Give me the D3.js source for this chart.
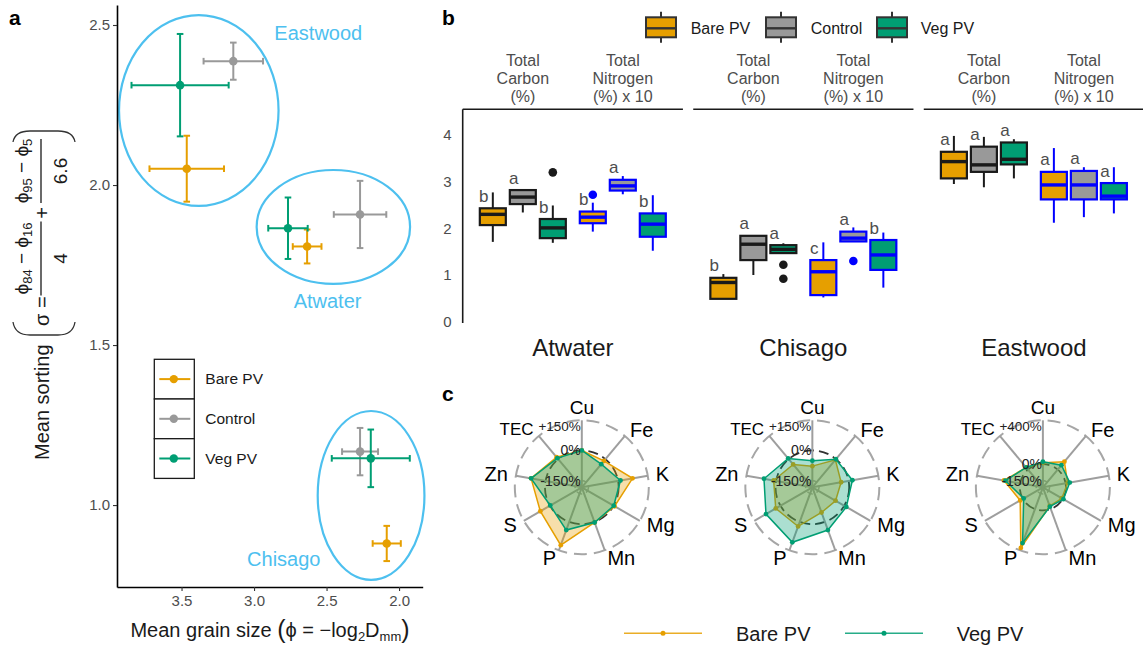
<!DOCTYPE html>
<html><head><meta charset="utf-8">
<script src="https://cdn.jsdelivr.net/npm/d3@7"></script>
<style>body{margin:0;background:#fff}svg{display:block;font-family:"Liberation Sans",Arial,sans-serif}</style>
</head><body><svg id="chart" width="1143" height="647"></svg>
<script>
// ================= DATA =================
const treatments = ["Bare PV", "Control", "Veg PV"];
const treatColors = ["#E69F00", "#999999", "#009E73"];

// ---- panel a: grain size vs sorting (mean ± error) ----
const sitesA = ["Eastwood", "Atwater", "Chisago"];
const grainMean = [[3.464, 3.143, 3.510], [2.634, 2.269, 2.766], [2.085, 2.269, 2.195]];
const grainErr  = [[0.257, 0.205, 0.335], [0.099, 0.181, 0.136], [0.097, 0.124, 0.269]];
const sortMean  = [[2.051, 2.387, 2.312], [1.808, 1.908, 1.865], [0.880, 1.167, 1.146]];
const sortErr   = [[0.103, 0.058, 0.160], [0.053, 0.105, 0.096], [0.055, 0.074, 0.090]];
const ellipseCX = [3.381, 2.453, 2.193];
const ellipseCY = [2.233, 1.869, 1.030];
const ellipseRX = [0.55, 0.529, 0.368];
const ellipseRY = [0.298, 0.178, 0.264];
const siteLabelX = [2.557, 2.493, 2.795];
const siteLabelY = [2.453, 1.616, 0.809];
const xTicksA = [3.5, 3.0, 2.5, 2.0];
const yTicksA = [1.0, 1.5, 2.0, 2.5];

// ---- panel b: boxplots [lower whisker, q1, median, q3, upper whisker] ----
const sitesB = ["Atwater", "Chisago", "Eastwood"];
const measures = ["Carbon", "Nitrogen"];
const measureHeader = [["Total", "Carbon", "(%)"], ["Total", "Nitrogen", "(%) x 10"]];
const carbonStats = [
  [[1.71, 2.07, 2.30, 2.43, 2.77], [2.34, 2.52, 2.67, 2.82, 2.82], [1.69, 1.79, 2.01, 2.20, 2.49]],
  [[0.49, 0.49, 0.84, 0.94, 1.02], [1.00, 1.32, 1.66, 1.84, 1.84], [1.47, 1.47, 1.55, 1.64, 1.68]],
  [[2.95, 3.07, 3.43, 3.64, 3.98], [2.88, 3.21, 3.36, 3.75, 3.96], [3.07, 3.37, 3.48, 3.84, 3.91]]
];
const nitrogenStats = [
  [[1.93, 2.11, 2.24, 2.36, 2.55], [2.73, 2.81, 2.91, 3.04, 3.12], [1.52, 1.82, 2.09, 2.32, 2.71]],
  [[0.52, 0.57, 1.07, 1.32, 1.70], [1.72, 1.72, 1.79, 1.93, 2.02], [0.73, 1.11, 1.43, 1.75, 1.91]],
  [[2.12, 2.62, 2.93, 3.21, 3.72], [2.24, 2.62, 2.93, 3.23, 3.31], [2.32, 2.62, 2.69, 2.97, 3.31]]
];
const carbonOutliers   = [[[], [], [3.20]], [[], [], [1.22, 0.92]], [[], [], []]];
const nitrogenOutliers = [[[2.72], [], []], [[], [1.30], []], [[], [], []]];
const carbonLetters   = [["b", "a", "b"], ["b", "a", "a"], ["a", "a", "a"]];
const nitrogenLetters = [["b", "a", "b"], ["c", "a", "b"], ["a", "a", "a"]];
const yTicksB = [0, 1, 2, 3, 4];

// ---- panel c: radar, % change vs control ----
const nutrients = ["Cu", "Fe", "K", "Mg", "Mn", "P", "S", "Zn", "TEC"];
const radarMin = [-150, -150, -150];
const radarMax = [150, 150, 400];
const radarMaxLabel = ["+150%", "+150%", "+400%"];
const bareChange = [
  [0, -12, 73, 5, 3, 123, 55, 73, 12],
  [-78, -5, -38, -50, -50, 24, 27, 12, -35],
  [13, 94, 18, -11, -30, 377, 28, 149, 25]
];
const vegChange = [
  [0, -33, 12, 0, 3, 43, -2, 73, 6],
  [-51, -1, 19, 12, 43, 108, 83, 61, 4],
  [22, 52, 38, 5, -23, 330, -9, 136, 25]
];
const radarSeries = ["Bare PV", "Veg PV"];
const radarColors = ["#E69F00", "#009E73"];

// ================= DRAWING =================
const FONT = "Liberation Sans, Arial, sans-serif";
const svg = d3.select("#chart");
svg.append("rect").attr("width", 1143).attr("height", 647).attr("fill", "#fff");

function panelLetter(t, x, y) {
  svg.append("text").attr("x", x).attr("y", y).attr("font-size", 21).attr("font-weight", "bold")
    .attr("fill", "#000").text(t);
}
panelLetter("a", 9, 25);
panelLetter("b", 442, 25);
panelLetter("c", 442, 401);

// ---------- Panel a ----------
const xA = d3.scaleLinear().domain([3.945, 1.837]).range([117, 422.7]);
const yA = d3.scaleLinear().domain([0.744, 2.5625]).range([587, 5]);
const gA = svg.append("g");
const ellipseColor = "#4DC0EF";

gA.selectAll("ellipse.site").data(sitesA).join("ellipse").attr("class", "site")
  .attr("cx", (d, i) => xA(ellipseCX[i])).attr("cy", (d, i) => yA(ellipseCY[i]))
  .attr("rx", (d, i) => Math.abs(xA(ellipseCX[i] + ellipseRX[i]) - xA(ellipseCX[i])))
  .attr("ry", (d, i) => Math.abs(yA(ellipseCY[i] + ellipseRY[i]) - yA(ellipseCY[i])))
  .attr("fill", "none").attr("stroke", ellipseColor).attr("stroke-width", 2.2);

gA.selectAll("text.site").data(sitesA).join("text").attr("class", "site")
  .attr("x", (d, i) => xA(siteLabelX[i])).attr("y", (d, i) => yA(siteLabelY[i]))
  .attr("text-anchor", "middle").attr("font-size", 20).attr("fill", ellipseColor).text(d => d);

const axL = gA.append("g").attr("transform", "translate(117,0)")
  .call(d3.axisLeft(yA).tickValues(yTicksA).tickFormat(d3.format(".1f")).tickSize(4).tickSizeOuter(0).tickPadding(3));
const axB = gA.append("g").attr("transform", "translate(0,587)")
  .call(d3.axisBottom(xA).tickValues(xTicksA).tickFormat(d3.format(".1f")).tickSize(4).tickSizeOuter(0).tickPadding(4));
[axL, axB].forEach(ax => {
  ax.attr("font-family", FONT).attr("font-size", 15);
  ax.select(".domain").attr("stroke", "#000").attr("stroke-width", 1.6);
  ax.selectAll(".tick line").attr("stroke", "#333").attr("stroke-width", 1.1);
  ax.selectAll(".tick text").attr("fill", "#4d4d4d");
});

sitesA.forEach((s, i) => {
  treatments.forEach((t, j) => {
    const g = gA.append("g").attr("stroke", treatColors[j]).attr("stroke-width", 2);
    const mx = grainMean[i][j], my = sortMean[i][j];
    const x0 = xA(mx - grainErr[i][j]), x1 = xA(mx + grainErr[i][j]);
    const y0 = yA(my - sortErr[i][j]), y1 = yA(my + sortErr[i][j]);
    const px = xA(mx), py = yA(my), c = 3.3;
    g.append("line").attr("x1", x0).attr("x2", x1).attr("y1", py).attr("y2", py);
    g.append("line").attr("x1", x0).attr("x2", x0).attr("y1", py - c).attr("y2", py + c);
    g.append("line").attr("x1", x1).attr("x2", x1).attr("y1", py - c).attr("y2", py + c);
    g.append("line").attr("x1", px).attr("x2", px).attr("y1", y0).attr("y2", y1);
    g.append("line").attr("x1", px - c).attr("x2", px + c).attr("y1", y0).attr("y2", y0);
    g.append("line").attr("x1", px - c).attr("x2", px + c).attr("y1", y1).attr("y2", y1);
    g.append("circle").attr("cx", px).attr("cy", py).attr("r", 4.3).attr("fill", treatColors[j]).attr("stroke", "none");
  });
});

// legend in panel a
const legA = gA.append("g").attr("transform", "translate(154.3,359.3)");
treatments.forEach((t, j) => {
  const ry = j * 39.7;
  legA.append("rect").attr("x", 0).attr("y", ry).attr("width", 40).attr("height", 39.7)
    .attr("fill", "#fff").attr("stroke", "#1a1a1a").attr("stroke-width", 1.3);
  legA.append("line").attr("x1", 5).attr("x2", 36).attr("y1", ry + 19.8).attr("y2", ry + 19.8)
    .attr("stroke", treatColors[j]).attr("stroke-width", 2);
  legA.append("circle").attr("cx", 19.5).attr("cy", ry + 19.8).attr("r", 4.2).attr("fill", treatColors[j]);
  legA.append("text").attr("x", 51).attr("y", ry + 25.2).attr("font-size", 15.5).attr("fill", "#1a1a1a").text(t);
});

// axis titles panel a
const xt = gA.append("text").attr("x", 270).attr("y", 637).attr("text-anchor", "middle")
  .attr("font-size", 20).attr("fill", "#1a1a1a");
xt.append("tspan").text("Mean grain size ");
xt.append("tspan").attr("font-size", 25).attr("dy", 1).text("(");
xt.append("tspan").attr("dy", -1).text("\u03D5 = \u2212log");
xt.append("tspan").attr("font-size", 13).attr("dy", 4).text("2");
xt.append("tspan").attr("dy", -4).text("D");
xt.append("tspan").attr("font-size", 13).attr("dy", 4).text("mm");
xt.append("tspan").attr("font-size", 25).attr("dy", -3).text(")");

const yt = gA.append("g").attr("transform", "translate(44,0) rotate(-90)").attr("fill", "#1a1a1a");
yt.append("text").attr("x", -460).attr("y", 5).attr("font-size", 20).text("Mean sorting");
const paren = (xEnd, xMid) => `M${xEnd},-31 Q${xMid},-29 ${xMid},-14 L${xMid},14 Q${xMid},29 ${xEnd},31`;
yt.append("path").attr("d", paren(-322, -335)).attr("fill", "none").attr("stroke", "#333").attr("stroke-width", 1.3);
yt.append("path").attr("d", paren(-142, -131)).attr("fill", "none").attr("stroke", "#333").attr("stroke-width", 1.3);
yt.append("text").attr("x", -326).attr("y", 5).attr("font-size", 20).text("\u03C3 =");
function frac(xc, halfW, num, den) {
  yt.append("line").attr("x1", xc - halfW).attr("x2", xc + halfW).attr("y1", -3).attr("y2", -3)
    .attr("stroke", "#1a1a1a").attr("stroke-width", 1.3);
  const n = yt.append("text").attr("x", xc).attr("y", -12).attr("text-anchor", "middle").attr("font-size", 19);
  num.forEach(([txt, sub]) => {
    n.append("tspan").attr("dy", sub ? 4 : (n.selectAll("tspan").size() ? -4 : 0))
      .attr("font-size", sub ? 13 : 19).text(txt);
  });
  yt.append("text").attr("x", xc).attr("y", 23).attr("text-anchor", "middle").attr("font-size", 19).text(den);
}
frac(-258.5, 37, [["\u03D5", 0], ["84", 1], [" \u2212 \u03D5", 0], ["16", 1]], "4");
yt.append("text").attr("x", -213).attr("y", 5).attr("text-anchor", "middle").attr("font-size", 20).text("+");
frac(-171, 32, [["\u03D5", 0], ["95", 1], [" \u2212 \u03D5", 0], ["5", 1]], "6.6");

// ---------- Panel b ----------
const gB = svg.append("g");
const yB = d3.scaleLinear().domain([0, 4]).range([321.7, 135]);
const facet = d3.scaleBand().domain(sitesB).range([462.7, 1144]).paddingInner(0.0447);
const bw = facet.bandwidth();
const xMeasure = d3.scalePoint().domain(measures).range([0.273 * bw, 0.727 * bw]);
const dodge = d3.scalePoint().domain(treatments).range([-30, 30]);
const boxW = 26;
const measureStroke = { Carbon: "#1a1a1a", Nitrogen: "#0000FF" };

// left axis
gB.append("line").attr("x1", facet(sitesB[0])).attr("x2", facet(sitesB[0])).attr("y1", 109.3).attr("y2", 323)
  .attr("stroke", "#1a1a1a").attr("stroke-width", 1.6);
const axBL = gB.append("g").attr("transform", `translate(${facet(sitesB[0])},0)`)
  .call(d3.axisLeft(yB).tickValues(yTicksB).tickFormat(d3.format("d")).tickSize(0).tickPadding(11));
axBL.attr("font-family", FONT).attr("font-size", 15);
axBL.select(".domain").remove();
axBL.selectAll(".tick text").attr("fill", "#4d4d4d");

sitesB.forEach((s, si) => {
  const fx = facet(s);
  gB.append("line").attr("x1", fx).attr("x2", fx + bw).attr("y1", 109.3).attr("y2", 109.3)
    .attr("stroke", "#1a1a1a").attr("stroke-width", 1.6);
  gB.append("text").attr("x", fx + bw / 2).attr("y", 356).attr("text-anchor", "middle")
    .attr("font-size", 24).attr("fill", "#1a1a1a").text(s);
  measures.forEach((m, mi) => {
    const gx = fx + xMeasure(m);
    const hdr = gB.append("text").attr("text-anchor", "middle").attr("font-size", 16).attr("fill", "#4d4d4d");
    measureHeader[mi].forEach((line, li) => hdr.append("tspan").attr("x", gx).attr("y", 66 + li * 18).text(line));
    const stats = mi === 0 ? carbonStats : nitrogenStats;
    const outs = mi === 0 ? carbonOutliers : nitrogenOutliers;
    const letters = mi === 0 ? carbonLetters : nitrogenLetters;
    const col = measureStroke[m];
    treatments.forEach((t, ti) => {
      const [lo, q1, med, q3, hi] = stats[si][ti];
      const cx = gx + dodge(t);
      const g = gB.append("g");
      g.append("line").attr("x1", cx).attr("x2", cx).attr("y1", yB(q3)).attr("y2", yB(hi)).attr("stroke", col).attr("stroke-width", 2);
      g.append("line").attr("x1", cx).attr("x2", cx).attr("y1", yB(q1)).attr("y2", yB(lo)).attr("stroke", col).attr("stroke-width", 2);
      g.append("rect").attr("x", cx - boxW / 2).attr("y", yB(q3)).attr("width", boxW).attr("height", yB(q1) - yB(q3))
        .attr("fill", treatColors[ti]).attr("stroke", col).attr("stroke-width", 2.2);
      g.append("line").attr("x1", cx - boxW / 2).attr("x2", cx + boxW / 2).attr("y1", yB(med)).attr("y2", yB(med))
        .attr("stroke", col).attr("stroke-width", 3.4);
      outs[si][ti].forEach(o => g.append("circle").attr("cx", cx).attr("cy", yB(o)).attr("r", 4.3).attr("fill", col));
      g.append("text").attr("x", cx - 9).attr("y", yB(q3) - 6.5).attr("text-anchor", "middle")
        .attr("font-size", 17).attr("fill", "#4d4d4d").text(letters[si][ti]);
    });
  });
});

// legend panel b
const legBoxX = [646, 766, 877];
const legTextX = [690.7, 810.7, 920.7];
treatments.forEach((t, j) => {
  const g = gB.append("g").attr("stroke", "#333").attr("stroke-width", 2);
  const x = legBoxX[j];
  g.append("line").attr("x1", x + 15).attr("x2", x + 15).attr("y1", 11.7).attr("y2", 42.7);
  g.append("rect").attr("x", x).attr("y", 17.3).attr("width", 30).attr("height", 20).attr("fill", treatColors[j]);
  g.append("line").attr("x1", x).attr("x2", x + 30).attr("y1", 28.3).attr("y2", 28.3).attr("stroke-width", 2.4);
  gB.append("text").attr("x", legTextX[j]).attr("y", 34).attr("font-size", 16).attr("fill", "#1a1a1a").text(t);
});

// ---------- Panel c ----------
const gC = svg.append("g");
const R = 67, cyR = 487.3;
const angle = i => i * 2 * Math.PI / nutrients.length;
sitesB.forEach((s, k) => {
  const cx = facet(s) + bw / 2 + 9;
  const mn = radarMin[k], mx = radarMax[k];
  const centre = mn - (mx - mn) / 9;
  const r = d3.scaleLinear().domain([centre, mx]).range([0, R]);
  const g = gC.append("g").attr("transform", `translate(${cx},${cyR})`);
  g.append("circle").attr("r", r(mn)).attr("fill", "none").attr("stroke", "#a6a6a6").attr("stroke-width", 1.6).attr("stroke-dasharray", "6,4");
  g.append("circle").attr("r", r(mx)).attr("fill", "none").attr("stroke", "#a6a6a6").attr("stroke-width", 2).attr("stroke-dasharray", "13,7");
  g.append("circle").attr("r", r(0)).attr("fill", "none").attr("stroke", "#333").attr("stroke-width", 1.8).attr("stroke-dasharray", "10,5");
  nutrients.forEach((n, i) => {
    const a = angle(i);
    g.append("line").attr("x1", 0).attr("y1", 0).attr("x2", R * Math.sin(a)).attr("y2", -R * Math.cos(a))
      .attr("stroke", "#9e9e9e").attr("stroke-width", 2);
  });
  const line = d3.lineRadial().angle((d, i) => angle(i)).radius(d => r(d)).curve(d3.curveLinearClosed);
  [bareChange[k], vegChange[k]].forEach((vals, si) => {
    const c = radarColors[si];
    g.append("path").attr("d", line(vals)).attr("fill", c).attr("fill-opacity", 0.33)
      .attr("stroke", c).attr("stroke-width", 1.5);
    vals.forEach((v, i) => {
      const a = angle(i);
      g.append("circle").attr("cx", r(v) * Math.sin(a)).attr("cy", -r(v) * Math.cos(a)).attr("r", 2.4).attr("fill", c);
    });
  });
  nutrients.forEach((n, i) => {
    const a = angle(i), sx = Math.sin(a);
    const rl = i === 0 ? 80 : 75;
    g.append("text").attr("x", rl * sx).attr("y", -rl * Math.cos(a))
      .attr("text-anchor", sx > 0.1 ? "start" : (sx < -0.1 ? "end" : "middle"))
      .attr("dominant-baseline", "central").attr("font-size", n === "TEC" ? 17 : (i === 0 ? 19 : 20)).attr("fill", "#000").text(n);
  });
  [[mx, radarMaxLabel[k]], [0, "0%"], [mn, "-150%"]].forEach(([v, lab], li) => {
    g.append("text").attr("x", -1).attr("y", -r(v) + (li === 0 ? 6 : 0)).attr("text-anchor", "end").attr("dominant-baseline", "central")
      .attr("font-size", li === 0 ? 13.5 : 14).attr("fill", "#222").text(lab);
  });
});

// bottom legend
const legCLineX = [624, 845];
const legCTextX = [736, 956.7];
radarSeries.forEach((sName, j) => {
  gC.append("line").attr("x1", legCLineX[j]).attr("x2", legCLineX[j] + 78).attr("y1", 633.3).attr("y2", 633.3)
    .attr("stroke", radarColors[j]).attr("stroke-width", 1.6).attr("stroke-opacity", 0.85);
  gC.append("circle").attr("cx", legCLineX[j] + 39).attr("cy", 633.3).attr("r", 2.5).attr("fill", radarColors[j]);
  gC.append("text").attr("x", legCTextX[j]).attr("y", 640.5).attr("font-size", 20).attr("fill", "#1a1a1a").text(sName);
});
</script></body></html>
